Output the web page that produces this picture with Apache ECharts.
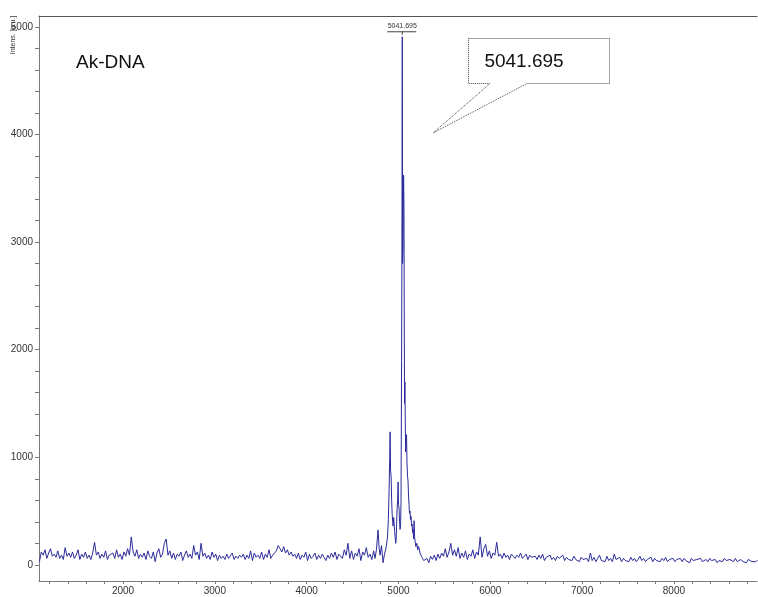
<!DOCTYPE html>
<html>
<head>
<meta charset="utf-8">
<title>Ak-DNA</title>
<script src="https://cdn.jsdelivr.net/npm/echarts@6/dist/echarts.min.js"></script>
<style>
    html, body {
        margin: 0;
        padding: 0;
        background: #fff;
    }

    #main {
        width: 758px;
        height: 597px;
    }
</style>
</head>
<body>
<div id="main"></div>
<script>
    // 基线噪声 (左段): m/z 从 1090 开始, 步长 20
    var noiseStart = 1090;
    var noiseStep = 20;
    var noiseLeft = [
        30, 120, 90, 140, 60, 110, 150, 80, 100, 70,
        130, 60, 90, 50, 160, 80, 110, 70, 120, 60,
        90, 140, 50, 100, 70, 120, 60, 90, 50, 110,
        210, 90, 120, 60, 100, 70, 130, 50, 90, 80,
        110, 60, 140, 70, 100, 50, 120, 80, 150, 90,
        260, 120, 80, 140, 60, 100, 70, 110, 50, 130,
        80, 60, 120, 30, 110, 150, 70, 100, 200, 240,
        90, 130, 60, 110, 50, 100, 80, 120, 40, 90,
        130, 70, 100, 60, 180, 90, 120, 50, 200, 80,
        110, 60, 90, 50, 120, 70, 100, 40, 90, 60,
        80, 50, 100, 60, 70, 110, 50, 80, 60, 90,
        70, 100, 50, 90, 60, 130, 40, 110, 70, 90,
        60, 120, 50, 100, 70, 140, 60, 90, 110, 130,
        180, 150, 120, 170, 110, 140, 90, 120, 80, 100,
        60, 110, 50, 90, 70, 120, 40, 100, 60, 80,
        110, 50, 90, 60, 100, 70, 40, 90, 60, 110,
        70, 120, 50, 100, 80, 60, 140, 90, 200, 60,
        130, 50, 110, 80, 150, 40, 120, 90, 160, 70,
        100, 50, 130
    ];

    // 主峰区域 (m/z, 强度)
    var peakMz = [
        4745, 4760, 4778, 4790, 4800, 4815, 4832, 4848, 4865, 4880,
        4890, 4898, 4905, 4909, 4914, 4920, 4926, 4931, 4937, 4942,
        4948, 4953, 4959, 4964, 4970, 4975, 4980, 4985, 4991, 4996,
        5001, 5007, 5012, 5017, 5023, 5028, 5034, 5038, 5041.695, 5045,
        5050, 5053, 5056, 5060, 5063, 5066, 5070, 5074, 5078, 5083,
        5088, 5093, 5099, 5104, 5110, 5115, 5120, 5126, 5131, 5137,
        5143, 5148, 5154, 5159, 5165, 5170, 5176, 5181, 5190, 5200,
        5210, 5220, 5235, 5250, 5262, 5275
    ];
    var peakInt = [
        60, 140, 325, 150, 90, 180, 20, 100, 160, 250,
        420, 700, 1000, 1236, 880, 820, 600, 480, 400, 360,
        440, 380, 310, 260, 200, 240, 380, 520, 600, 770,
        560, 520, 400, 330, 360, 600, 1900, 3000, 4907, 2800,
        2950, 3380, 3620, 3350, 2400, 1500, 1700, 1350, 1050, 1150,
        1210, 950, 820, 780, 640, 560, 480, 500, 420, 450,
        360, 380, 300, 330, 240, 410, 260, 220, 170, 200,
        140, 170, 110, 80, 60, 40
    ];

    // 基线噪声 (右段)
    var noiseRightStart = 5290;
    var noiseRight = [
        30, 60, 20, 80, 50, 90, 40, 100, 60, 110,
        80, 150, 70, 120, 200, 90, 140, 80, 160, 60,
        110, 70, 130, 50, 100, 80, 140, 60, 120, 90,
        260, 70, 150, 190, 80, 130, 60, 110, 90, 210,
        80, 100, 60, 110, 70, 90, 50, 100, 80, 60,
        90, 70, 110, 60, 80, 100, 50, 90, 70, 60,
        80, 50, 90, 60, 100, 40, 70, 60, 90, 50,
        70, 40, 80, 60, 50, 90, 40, 70, 50, 60,
        40, 80, 50, 60, 30, 70, 50, 40, 60, 30,
        110, 40, 70, 30, 60, 90, 40, 50, 30, 80,
        40, 60, 30, 100, 50, 40, 70, 30, 60, 40,
        50, 30, 70, 40, 60, 30, 50, 80, 40, 60,
        30, 50, 40, 70, 30, 60, 40, 50, 30, 60,
        40, 70, 30, 50, 40, 60, 30, 50, 40, 60,
        30, 60, 40, 50, 20, 60, 40, 30, 50, 40,
        60, 30, 40, 50, 30, 60, 40, 30, 50, 20,
        40, 50, 30, 60, 40, 30, 50, 40, 30, 60,
        30, 40, 50, 30, 40, 20, 50, 40, 30, 40,
        30, 40
    ];

    // 刻度
    var xLabels = [2000, 3000, 4000, 5000, 6000, 7000, 8000];
    var yLabels = [0, 1000, 2000, 3000, 4000, 5000];
    var peakLabel = '5041.695';
    var peakTopMz = 5041.695;
    var peakTopInt = 4907;

    // 拼接数据
    var spectrum = [];
    noiseLeft.forEach(function (v, i) {
        spectrum.push([noiseStart + i * noiseStep, v]);
    });
    peakMz.forEach(function (m, i) {
        spectrum.push([m, peakInt[i]]);
    });
    noiseRight.forEach(function (v, i) {
        spectrum.push([noiseRightStart + i * noiseStep, v]);
    });

    var xMinor = [];
    for (var t = 1200; t <= 8800; t += 200) xMinor.push(t);
    var yMinor = [];
    for (var s = 0; s <= 5000; s += 200) yMinor.push(s);

    var axisColor = '#7a7a7a';
    var labelStyle = {
        color: '#333',
        fontSize: 10,
        fontFamily: 'Liberation Sans, Arial, sans-serif',
        formatter: function (v) { return String(v); }
    };

    var chart = echarts.init(document.getElementById('main'));
    chart.setOption({
        animation: false,
        grid: { left: 39, right: 1, top: 16, bottom: 16 },
        xAxis: [{
            type: 'value',
            min: 1085,
            max: 8905,
            axisLine: { show: true, onZero: false, lineStyle: { color: axisColor, width: 1 } },
            axisTick: { show: true, length: 3, customValues: xMinor, lineStyle: { color: axisColor } },
            axisLabel: Object.assign({ customValues: xLabels, margin: 5 }, labelStyle),
            splitLine: { show: false }
        }, {
            type: 'value',
            position: 'top',
            min: 1085,
            max: 8905,
            axisLine: { show: true, onZero: false, lineStyle: { color: '#555', width: 1 } },
            axisTick: { show: false },
            axisLabel: { show: false },
            splitLine: { show: false }
        }],
        yAxis: {
            type: 'value',
            min: -150,
            max: 5100,
            axisLine: { show: true, onZero: false, lineStyle: { color: axisColor, width: 1 } },
            axisTick: { show: true, length: 4, customValues: yMinor, lineStyle: { color: axisColor } },
            axisLabel: Object.assign({ customValues: yLabels, margin: 6 }, labelStyle),
            splitLine: { show: false }
        },
        series: [{
            type: 'line',
            data: spectrum,
            showSymbol: false,
            sampling: 'none',
            lineStyle: { color: '#2b2b9b', width: 1 },
            z: 3
        }]
    });

    // 峰标签位置由数据坐标换算
    var p = chart.convertToPixel({ seriesIndex: 0 }, [peakTopMz, peakTopInt]);

    chart.setOption({
        graphic: [
            // 纵轴名称
            {
                type: 'text',
                x: 13, y: 35,
                rotation: Math.PI / 2,
                style: {
                    text: 'Intens. [a.u.]',
                    fill: '#333',
                    fontSize: 7,
                    fontFamily: 'Liberation Sans, Arial, sans-serif',
                    align: 'center',
                    verticalAlign: 'middle'
                }
            },
            // 样品名
            {
                type: 'text',
                x: 76, y: 63,
                style: {
                    text: 'Ak-DNA',
                    fill: '#111',
                    fontSize: 19,
                    fontFamily: 'Liberation Sans, Arial, sans-serif',
                    verticalAlign: 'middle'
                }
            },
            // 峰顶小标签
            {
                type: 'text',
                x: p[0], y: p[1] - 7,
                style: {
                    text: peakLabel,
                    fill: '#333',
                    fontSize: 7,
                    fontFamily: 'Liberation Sans, Arial, sans-serif',
                    align: 'center',
                    verticalAlign: 'bottom'
                }
            },
            {
                type: 'line',
                shape: { x1: p[0] - 15, y1: p[1] - 5, x2: p[0] + 14, y2: p[1] - 5 },
                style: { stroke: '#444', lineWidth: 1 }
            },
            {
                type: 'line',
                shape: { x1: p[0], y1: p[1] - 5, x2: p[0], y2: p[1] - 2 },
                style: { stroke: '#444', lineWidth: 1 }
            },
            // 标注框
            {
                type: 'polyline',
                shape: {
                    points: [[468.5, 38.5], [609.5, 38.5], [609.5, 83.5], [527, 83.5],
                        [433, 133], [490, 83.5], [468.5, 83.5], [468.5, 38.5]]
                },
                style: { stroke: '#444', lineWidth: 1, lineDash: [1, 1], fill: null }
            },
            {
                type: 'text',
                x: 524, y: 62,
                style: {
                    text: peakLabel,
                    fill: '#111',
                    fontSize: 19,
                    fontFamily: 'Liberation Sans, Arial, sans-serif',
                    align: 'center',
                    verticalAlign: 'middle'
                }
            }
        ]
    });
</script>
</body>
</html>
